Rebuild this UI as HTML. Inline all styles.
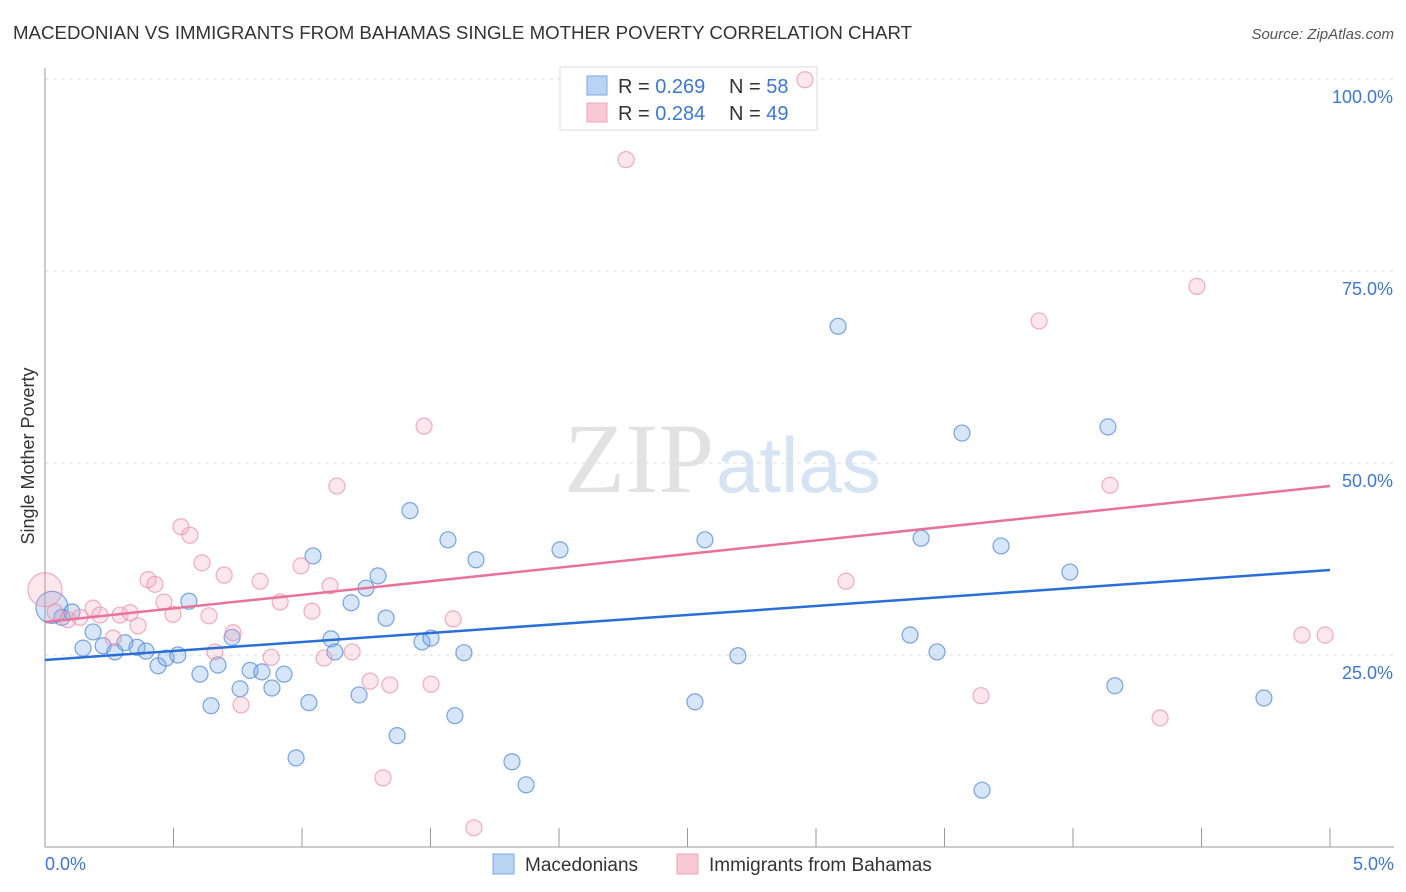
<!DOCTYPE html>
<html><head><meta charset="utf-8"><style>
body{margin:0;background:#fff;font-family:"Liberation Sans",sans-serif;}
svg{display:block}
</style></head><body>
<svg id="chart" width="1406" height="892" xmlns="http://www.w3.org/2000/svg">
<text x="13" y="39" font-size="18" fill="#333" textLength="899" lengthAdjust="spacingAndGlyphs">MACEDONIAN VS IMMIGRANTS FROM BAHAMAS SINGLE MOTHER POVERTY CORRELATION CHART</text>
<text x="1394" y="39" font-size="15" fill="#555" font-style="italic" text-anchor="end">Source: ZipAtlas.com</text>
<text x="714" y="492" font-size="100" fill="#e2e2e2" text-anchor="end" font-family="Liberation Serif,serif">ZIP</text>
<text x="716" y="492" font-size="78" fill="#d6e3f3">atlas</text>
<text transform="translate(34,456) rotate(-90)" font-size="18" fill="#333" text-anchor="middle">Single Mother Poverty</text>
<g id="grid"></g><g id="axes"></g>
<g>
<rect x="560" y="67" width="257" height="63" fill="#fff" stroke="#ddd"/>
<rect x="587" y="76" width="20" height="19" fill="#b9d3f3" stroke="#7aa8e0"/>
<rect x="587" y="103" width="20" height="19" fill="#f9c8d6" stroke="#eea5bd"/>
<text y="93" font-size="20" fill="#333"><tspan x="618">R = </tspan><tspan fill="#3a78d4">0.269</tspan><tspan x="729">N = </tspan><tspan fill="#3a78d4">58</tspan></text>
<text y="120" font-size="20" fill="#333"><tspan x="618">R = </tspan><tspan fill="#3a78d4">0.284</tspan><tspan x="729">N = </tspan><tspan fill="#3a78d4">49</tspan></text>
</g>
<g id="pts"></g><g id="lines"></g>
<g>
<rect x="493" y="854" width="21" height="20" fill="#b9d3f3" stroke="#7aa8e0"/>
<text x="525" y="871" font-size="19" fill="#333">Macedonians</text>
<rect x="677" y="854" width="21" height="20" fill="#f9c8d6" stroke="#eea5bd"/>
<text x="709" y="871" font-size="19" fill="#333">Immigrants from Bahamas</text>
</g>
</svg>
<script>
const xTicks=[0,0.5,1,1.5,2,2.5,3,3.5,4,4.5,5];
const yTicks=[25,50,75,100];
const yTickLabels=["25.0%","50.0%","75.0%","100.0%"];
const blueX=[0.027,0.066,0.105,0.148,0.187,0.226,0.272,0.311,0.358,0.393,0.440,0.471,0.517,0.560,0.603,0.646,0.673,0.728,0.759,0.798,0.844,0.883,0.930,0.977,1.027,1.043,1.113,1.128,1.191,1.222,1.249,1.296,1.327,1.370,1.420,1.467,1.502,1.568,1.595,1.630,1.677,1.817,1.872,2.004,2.529,2.568,2.696,3.086,3.366,3.409,3.471,3.568,3.646,3.720,3.988,4.136,4.163,4.743];
const blueY=[31.2,29.9,30.6,25.9,28.0,26.2,25.4,26.6,26.0,25.5,23.6,24.6,25.0,32.0,22.5,18.4,23.7,27.3,20.6,23.0,22.8,20.7,22.5,11.6,18.8,37.9,27.1,25.4,31.8,19.8,33.7,35.3,29.8,14.5,43.8,26.7,27.2,40.0,17.1,25.3,37.4,11.1,8.1,38.7,18.9,40.0,24.9,67.8,27.6,40.2,25.4,53.9,7.4,39.2,35.8,54.7,21.0,19.4];
const pinkX=[0.0,0.039,0.089,0.136,0.187,0.214,0.265,0.292,0.331,0.362,0.401,0.428,0.463,0.498,0.529,0.564,0.611,0.638,0.661,0.697,0.732,0.763,0.837,0.880,0.915,0.996,1.039,1.086,1.109,1.136,1.195,1.265,1.315,1.342,1.475,1.502,1.588,1.669,2.261,2.957,3.117,3.642,3.868,4.144,4.339,4.482,4.891,4.981];
const pinkY=[33.5,30.6,29.6,29.9,31.1,30.2,27.2,30.2,30.5,28.8,34.8,34.2,31.9,30.3,41.7,40.6,37.0,30.1,25.4,35.4,27.9,18.5,34.6,24.7,31.9,36.6,30.7,24.6,34.0,47.0,25.4,21.6,9.0,21.1,54.8,21.2,29.7,2.5,89.5,99.9,34.6,19.7,68.5,47.1,16.8,73.0,27.6,27.6];
const blueTrend=[24.35,36.07];
const pinkTrend=[29.3,47.0];
const NS="http://www.w3.org/2000/svg";
const X=v=>45+v*257, Y=v=>847-v*7.68;
function mk(tag,attrs,parent){const e=document.createElementNS(NS,tag);for(const k in attrs)e.setAttribute(k,attrs[k]);document.getElementById(parent).appendChild(e);return e;}
yTicks.forEach((t,i)=>{
 const g=mk('line',{x1:45,x2:1394,y1:Y(t),y2:Y(t),stroke:'#ddd','stroke-dasharray':'4,4'},'grid');
 
 
 const l=mk('text',{x:1393,y:Y(t)+24,'font-size':18,fill:'#3a78d4','text-anchor':'end'},'axes');
 l.textContent=yTickLabels[i];
 
 
});
const ya=mk('line',{x1:45,x2:45,y1:68,y2:847,stroke:'#999'},'axes');


const xa=mk('line',{x1:45,x2:1394,y1:847,y2:847,stroke:'#999'},'axes');


xTicks.forEach(t=>{
 const l=mk('line',{x1:X(t),x2:X(t),y1:828,y2:847,stroke:'#999'},'axes');
 
 
});
[[0,'0.0%','start',45],[5,'5.0%','end',1394]].forEach(a=>{
 const l=mk('text',{x:a[3],y:870,'font-size':18,fill:'#3a78d4','text-anchor':a[2]},'axes');
 l.textContent=a[1];
 
 
});
blueX.forEach((x,i)=>{
 const c=mk('circle',{cx:X(x),cy:Y(blueY[i]),r:i==0?16:8,fill:'rgba(120,170,230,0.3)',stroke:'rgba(70,130,215,0.7)','stroke-width':1.2},'pts');
 
 
});
pinkX.forEach((x,i)=>{
 const c=mk('circle',{cx:X(x),cy:Y(pinkY[i]),r:i==0?17:8,fill:'rgba(245,160,185,0.25)',stroke:'rgba(235,140,170,0.7)','stroke-width':1.2},'pts');
 
 
});
const bl=mk('line',{x1:X(0),y1:Y(blueTrend[0]),x2:X(5),y2:Y(blueTrend[1]),stroke:'#2a6fd6','stroke-width':2.5},'lines');


const pl=mk('line',{x1:X(0),y1:Y(pinkTrend[0]),x2:X(5),y2:Y(pinkTrend[1]),stroke:'#e8739a','stroke-width':2.5},'lines');


</script>
</body></html>
